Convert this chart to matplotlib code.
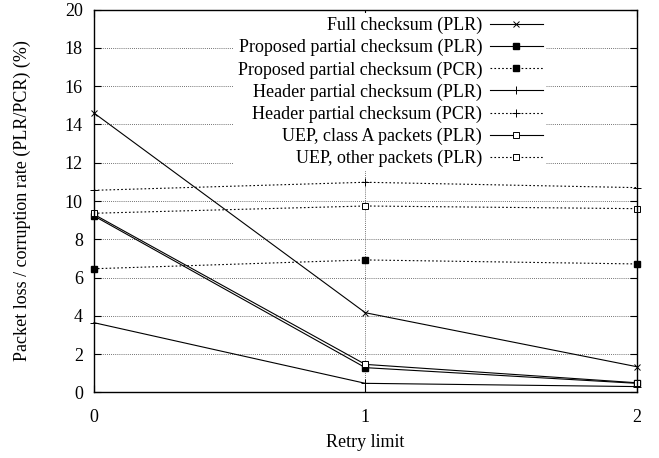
import matplotlib
matplotlib.use("Agg")
from matplotlib import pyplot as plt

retry = [0, 1, 2]

full_plr = [14.6, 4.16, 1.34]
prop_plr = [9.22, 1.29, 0.47]
prop_pcr = [6.46, 6.92, 6.71]
head_plr = [3.64, 0.47, 0.3]
head_pcr = [10.56, 10.98, 10.70]
uepa_plr = [9.3, 1.46, 0.5]
uepo_plr = [9.36, 9.74, 9.6]

labels = [
    "Full checksum (PLR)",
    "Proposed partial checksum (PLR)",
    "Proposed partial checksum (PCR)",
    "Header partial checksum (PLR)",
    "Header partial checksum (PCR)",
    "UEP, class A packets (PLR)",
    "UEP, other packets (PLR)",
]

plt.rcParams.update({
    "font.family": "Liberation Serif",
    "font.size": 13,
    "xtick.direction": "in",
    "ytick.direction": "in",
    "xtick.top": True,
    "ytick.right": True,
})

fig = plt.figure(figsize=(6.59, 4.58), dpi=100)
ax = fig.add_axes([0.1426, 0.1434, 0.8236, 0.8354])

lw = 0.8
dot = (0, (1.5, 2))
ax.plot(retry, full_plr, color="black", lw=lw, marker="x", ms=4, mew=0.7, clip_on=False, label=labels[0])
ax.plot(retry, prop_plr, color="black", lw=lw, marker="s", ms=4.5, clip_on=False, label=labels[1])
ax.plot(retry, prop_pcr, color="black", lw=lw, ls=dot, marker="s", ms=4.5, clip_on=False, label=labels[2])
ax.plot(retry, head_plr, color="black", lw=lw, marker="+", ms=6, mew=0.7, clip_on=False, label=labels[3])
ax.plot(retry, head_pcr, color="black", lw=lw, ls=dot, marker="+", ms=6, mew=0.7, clip_on=False, label=labels[4])
ax.plot(retry, uepa_plr, color="black", lw=lw, marker="s", ms=4.5, mfc="white", mew=0.7, clip_on=False, label=labels[5])
ax.plot(retry, uepo_plr, color="black", lw=lw, ls=dot, marker="s", ms=4.5, mfc="white", mew=0.7, clip_on=False, label=labels[6])

ax.set_xlim(0, 2)
ax.set_ylim(0, 20)
ax.set_xticks([0, 1, 2])
ax.set_yticks(range(0, 21, 2))
ax.grid(True, color="#444444", lw=0.6, ls=(0, (1, 1.5)))
ax.tick_params(length=5, width=0.8)
ax.tick_params(axis="x", pad=12)
ax.tick_params(axis="y", pad=8)
for s in ax.spines.values():
    s.set_linewidth(1.0)

ax.set_xlabel("Retry limit", labelpad=6)
ax.set_ylabel("Packet loss / corruption rate (PLR/PCR) (%)", labelpad=24)

leg = ax.legend(loc="upper right", markerfirst=False, frameon=True, fancybox=False,
                handlelength=2.9, handletextpad=0.45, labelspacing=0.27,
                borderpad=0.2, borderaxespad=0.2, bbox_to_anchor=(0.84, 1.0))
leg.get_frame().set_edgecolor("none")
leg.get_frame().set_facecolor("white")
leg.get_frame().set_alpha(1.0)
for t in leg.get_texts():
    t.set_ha("right")
leg._legend_box.align = "right"

fig.savefig("out.png", dpi=100)
